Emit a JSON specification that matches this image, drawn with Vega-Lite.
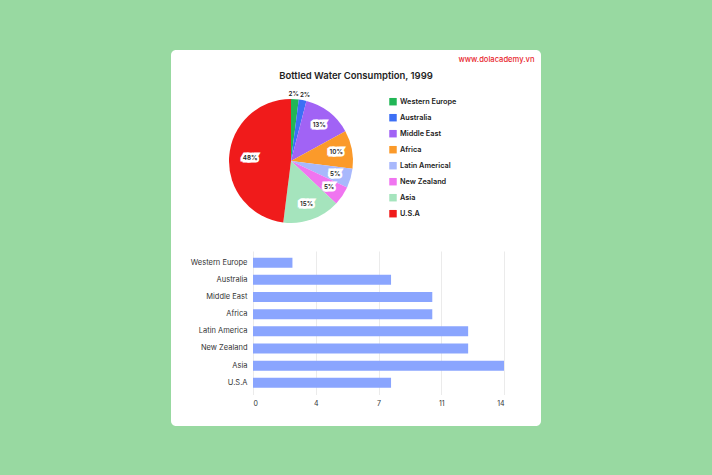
{
  "$schema": "https://vega.github.io/schema/vega-lite/v6.json",
  "background": "#98d9a1",
  "padding": {"left": 171, "top": 50, "right": 171, "bottom": 49},
  "title": {"text": "www.dolacademy.vn", "anchor": "end", "frame": "bounds", "orient": "top", "offset": -19.5, "dx": -6.5, "baseline": "alphabetic", "fontSize": 7.6, "fontWeight": 500, "color": "#e8262d"},
  "columns": 1,
  "align": "none",
  "bounds": "full",
  "spacing": -335,
  "config": {
    "view": {"stroke": null},
    "font": "Inter",
    "axis": {"labelFont": "Inter"},
    "legend": {"labelFont": "Inter"},
    "title": {"font": "Inter"}
  },
  "datasets": {
    "pie": [
      {"region": "Western Europe", "share": 0.02, "i": 1},
      {"region": "Australia", "share": 0.02, "i": 2},
      {"region": "Middle East", "share": 0.13, "i": 3},
      {"region": "Africa", "share": 0.10, "i": 4},
      {"region": "Latin Americal", "share": 0.05, "i": 5},
      {"region": "New Zealand", "share": 0.05, "i": 6},
      {"region": "Asia", "share": 0.15, "i": 7},
      {"region": "U.S.A", "share": 0.48, "i": 8}
    ],
    "bars": [
      {"region": "Western Europe", "value": 2.2},
      {"region": "Australia", "value": 7.7},
      {"region": "Middle East", "value": 10},
      {"region": "Africa", "value": 10},
      {"region": "Latin America", "value": 12},
      {"region": "New Zealand", "value": 12},
      {"region": "Asia", "value": 14},
      {"region": "U.S.A", "value": 7.7}
    ]
  },
  "concat": [
    {
      "width": 370,
      "height": 376,
      "view": {"fill": "white", "stroke": null, "cornerRadius": 5},
      "title": {"text": "Bottled Water Consumption, 1999", "anchor": "middle", "frame": "group", "orient": "top", "offset": -38, "baseline": "alphabetic", "fontSize": 9.5, "fontWeight": 600, "color": "#1e1e1e"},
      "data": {"values": []},
      "mark": "point"
    },
    {
      "spacing": 23,
      "vconcat": [
        {
          "spacing": 0,
          "hconcat": [
            {"width": 51, "height": 124, "data": {"values": []}, "mark": "point"},
            {
              "width": 124,
              "height": 124,
              "data": {"name": "pie"},
              "encoding": {
                "theta": {"field": "share", "type": "quantitative", "stack": true},
                "order": {"field": "i", "type": "quantitative"},
                "color": {
                  "field": "region",
                  "type": "nominal",
                  "sort": null,
                  "scale": {
                    "domain": ["Western Europe", "Australia", "Middle East", "Africa", "Latin Americal", "New Zealand", "Asia", "U.S.A"],
                    "range": ["#21b656", "#3c6ff5", "#a163f5", "#fb9a2a", "#a8b8fc", "#f075f0", "#a5e4bd", "#f01b1b"]
                  },
                  "legend": {
                    "title": null,
                    "orient": "none",
                    "legendX": 218,
                    "legendY": 47.7,
                    "padding": 0,
                    "symbolType": "square",
                    "symbolSize": 56,
                    "symbolStrokeWidth": 0,
                    "labelFontSize": 7.3,
                    "labelFontWeight": 600,
                    "labelColor": "#222222",
                    "labelOffset": 3,
                    "rowPadding": 8
                  }
                }
              },
              "layer": [
                {"mark": {"type": "arc", "stroke": null}},
                {
                  "mark": {"type": "text", "radius": 46, "fontSize": 6.3, "fontWeight": 600, "stroke": "white", "strokeWidth": 5, "strokeJoin": "miter"},
                  "encoding": {
                    "text": {"condition": {"test": "datum.share >= 0.05 && datum.share < 0.4", "field": "share", "type": "quantitative", "format": ".0%"}, "value": ""},
                    "color": {"value": "white"}
                  }
                },
                {
                  "mark": {"type": "text", "radius": 46, "fontSize": 6.3, "fontWeight": 600},
                  "encoding": {
                    "text": {"condition": {"test": "datum.share >= 0.05 && datum.share < 0.4", "field": "share", "type": "quantitative", "format": ".0%"}, "value": ""},
                    "color": {"value": "#1e1e1e"}
                  }
                },
                {
                  "mark": {"type": "text", "radius": 41, "fontSize": 6.3, "fontWeight": 600, "stroke": "white", "strokeWidth": 5, "strokeJoin": "miter"},
                  "encoding": {
                    "text": {"condition": {"test": "datum.share >= 0.4", "field": "share", "type": "quantitative", "format": ".0%"}, "value": ""},
                    "color": {"value": "white"}
                  }
                },
                {
                  "mark": {"type": "text", "radius": 41, "fontSize": 6.3, "fontWeight": 600},
                  "encoding": {
                    "text": {"condition": {"test": "datum.share >= 0.4", "field": "share", "type": "quantitative", "format": ".0%"}, "value": ""},
                    "color": {"value": "#1e1e1e"}
                  }
                },
                {
                  "mark": {"type": "text", "radius": 67, "fontSize": 6.3, "fontWeight": 600, "dx": -1.5},
                  "encoding": {
                    "text": {"condition": {"test": "datum.region === 'Western Europe'", "field": "share", "type": "quantitative", "format": ".0%"}, "value": ""},
                    "color": {"value": "#1e1e1e"}
                  }
                },
                {
                  "mark": {"type": "text", "radius": 67, "fontSize": 6.3, "fontWeight": 600, "dx": 1.5},
                  "encoding": {
                    "text": {"condition": {"test": "datum.region === 'Australia'", "field": "share", "type": "quantitative", "format": ".0%"}, "value": ""},
                    "color": {"value": "#1e1e1e"}
                  }
                }
              ]
            }
          ]
        },
        {
          "spacing": 0,
          "hconcat": [
            {"width": 19, "height": 143.5, "data": {"values": []}, "mark": "point"},
            {
              "width": 251,
              "height": 143.5,
              "data": {"name": "bars"},
              "mark": {"type": "bar", "color": "#8aa5fe"},
              "encoding": {
                "y": {
                  "field": "region",
                  "type": "nominal",
                  "sort": null,
                  "scale": {"paddingInner": 0.42, "paddingOuter": 0.39},
                  "axis": {"title": null, "ticks": false, "domain": false, "grid": false, "labelPadding": 6, "labelFontSize": 7.5, "labelColor": "#333333"}
                },
                "x": {
                  "field": "value",
                  "type": "quantitative",
                  "scale": {"domain": [0, 14], "nice": false},
                  "axis": {"title": null, "values": [0, 3.5, 7, 10.5, 14], "format": ".0f", "ticks": false, "domain": false, "grid": true, "gridColor": "#ebebeb", "labelPadding": 5, "labelFontSize": 7, "labelColor": "#333333"}
                }
              }
            }
          ]
        }
      ]
    }
  ]
}
